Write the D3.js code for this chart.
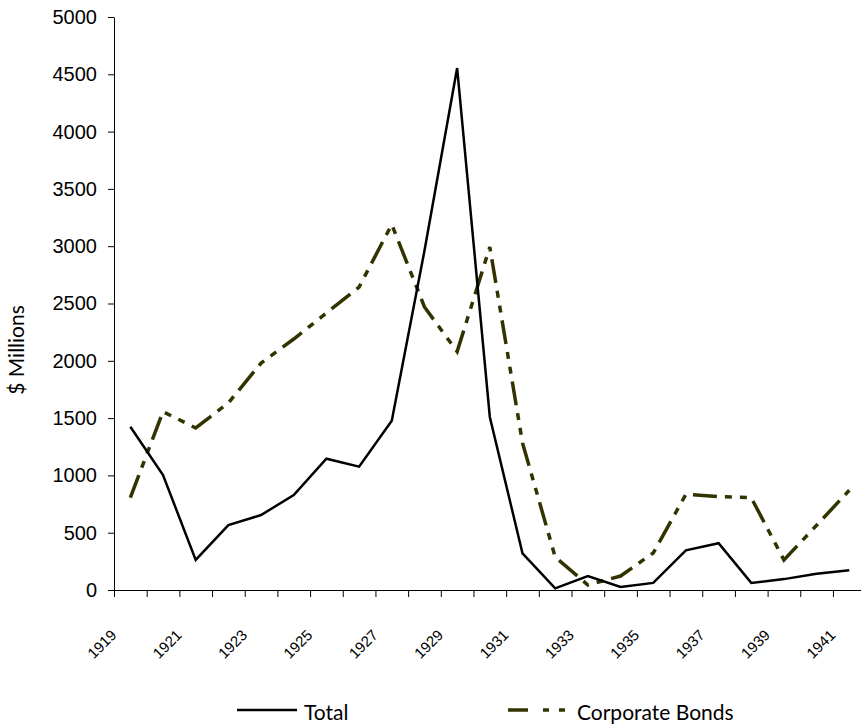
<!DOCTYPE html>
<html>
<head>
<meta charset="utf-8">
<script src="https://d3js.org/d3.v7.min.js"></script>
<style>
    body { margin: 0; background: #ffffff; }
    svg { display: block; }
    .title-text { font-family: Lato, "Open Sans", sans-serif; font-size: 21px; fill: #000000; }
</style>
</head>
<body>
<div id="chart"></div>
<script>
    // data
    const years = d3.range(1919, 1942).map(String);
    const total = [1425, 1003, 262, 567, 654, 829, 1146, 1076, 1477, 2960, 4555, 1510,
                   320, 14, 122, 27, 62, 346, 408, 62, 95, 142, 172];
    const corporateBonds = [806, 1556, 1414, 1632, 1980, 2190, 2417, 2644, 3190, 2470, 2080, 2993,
                            1283, 288, 44, 122, 323, 835, 815, 805, 262, 565, 870];
    const yTicks = [0, 500, 1000, 1500, 2000, 2500, 3000, 3500, 4000, 4500, 5000];
    const xLabels = years.filter((d, i) => i % 2 === 0);

    const W = 861, H = 726;
    const plotLeft = 114, plotTop = 17, plotBottom = 590;
    const catW = 32.68;
    const plotRight = plotLeft + catW * years.length;

    const svg = d3.select("#chart").append("svg")
        .attr("width", W)
        .attr("height", H);

    const x = d3.scaleBand().domain(years).range([plotLeft, plotRight]).padding(0);
    const xEdge = d3.scaleLinear().domain([0, years.length]).range([plotLeft, plotRight]);
    const y = d3.scaleLinear().domain([0, 5000]).range([plotBottom, plotTop]);

    // y axis
    svg.append("g")
        .attr("transform", `translate(${plotLeft},0)`)
        .call(d3.axisLeft(y).tickValues(yTicks).tickFormat(d3.format("d"))
            .tickSize(6).tickSizeOuter(0).tickPadding(11))
        .call(g => g.selectAll("line, path").attr("stroke", "#000"))
        .call(g => g.selectAll("text")
            .style("font-family", "'Liberation Sans', Arial, sans-serif")
            .style("font-size", "20px")
            .style("fill", "#000"));

    // x axis: ticks between categories
    svg.append("g")
        .attr("transform", `translate(0,${plotBottom})`)
        .call(d3.axisBottom(xEdge).tickValues(d3.range(years.length + 1)).tickFormat("").tickSize(7).tickSizeOuter(0))
        .call(g => g.selectAll("line, path").attr("stroke", "#000"));

    // rotated year labels, every other year
    svg.append("g").selectAll("text")
        .data(xLabels)
        .join("text")
        .attr("text-anchor", "end")
        .attr("transform", d => `translate(${x(d) + x.bandwidth() / 2 - 13},636) rotate(-45)`)
        .style("font-family", "'Liberation Sans', Arial, sans-serif")
        .style("font-size", "15px")
        .style("fill", "#000")
        .text(d => d);

    const line = d3.line()
        .x((d, i) => x(years[i]) + x.bandwidth() / 2)
        .y(d => y(d));

    svg.append("path")
        .datum(corporateBonds)
        .attr("fill", "none")
        .attr("stroke", "#333300")
        .attr("stroke-width", 3.5)
        .attr("stroke-dasharray", "24,8,7,8,7,8")
        .attr("d", line);

    svg.append("path")
        .datum(total)
        .attr("fill", "none")
        .attr("stroke", "#000000")
        .attr("stroke-width", 2.5)
        .attr("stroke-linejoin", "miter")
        .attr("d", line);

    // y axis title
    svg.append("text")
        .attr("class", "title-text")
        .attr("text-anchor", "middle")
        .attr("transform", "translate(24,350) rotate(-90)")
        .text("$ Millions");

    // legend
    const legend = svg.append("g");
    legend.append("line")
        .attr("x1", 237).attr("x2", 297).attr("y1", 710).attr("y2", 710)
        .attr("stroke", "#000").attr("stroke-width", 2.5);
    legend.append("text")
        .attr("class", "title-text")
        .attr("x", 304).attr("y", 720)
        .text("Total");
    legend.append("line")
        .attr("x1", 508).attr("x2", 575).attr("y1", 710).attr("y2", 710)
        .attr("stroke", "#333300").attr("stroke-width", 3.5)
        .attr("stroke-dasharray", "20,15,6,10,6,10");
    legend.append("text")
        .attr("class", "title-text")
        .attr("x", 577).attr("y", 720)
        .text("Corporate Bonds");
</script>
</body>
</html>
